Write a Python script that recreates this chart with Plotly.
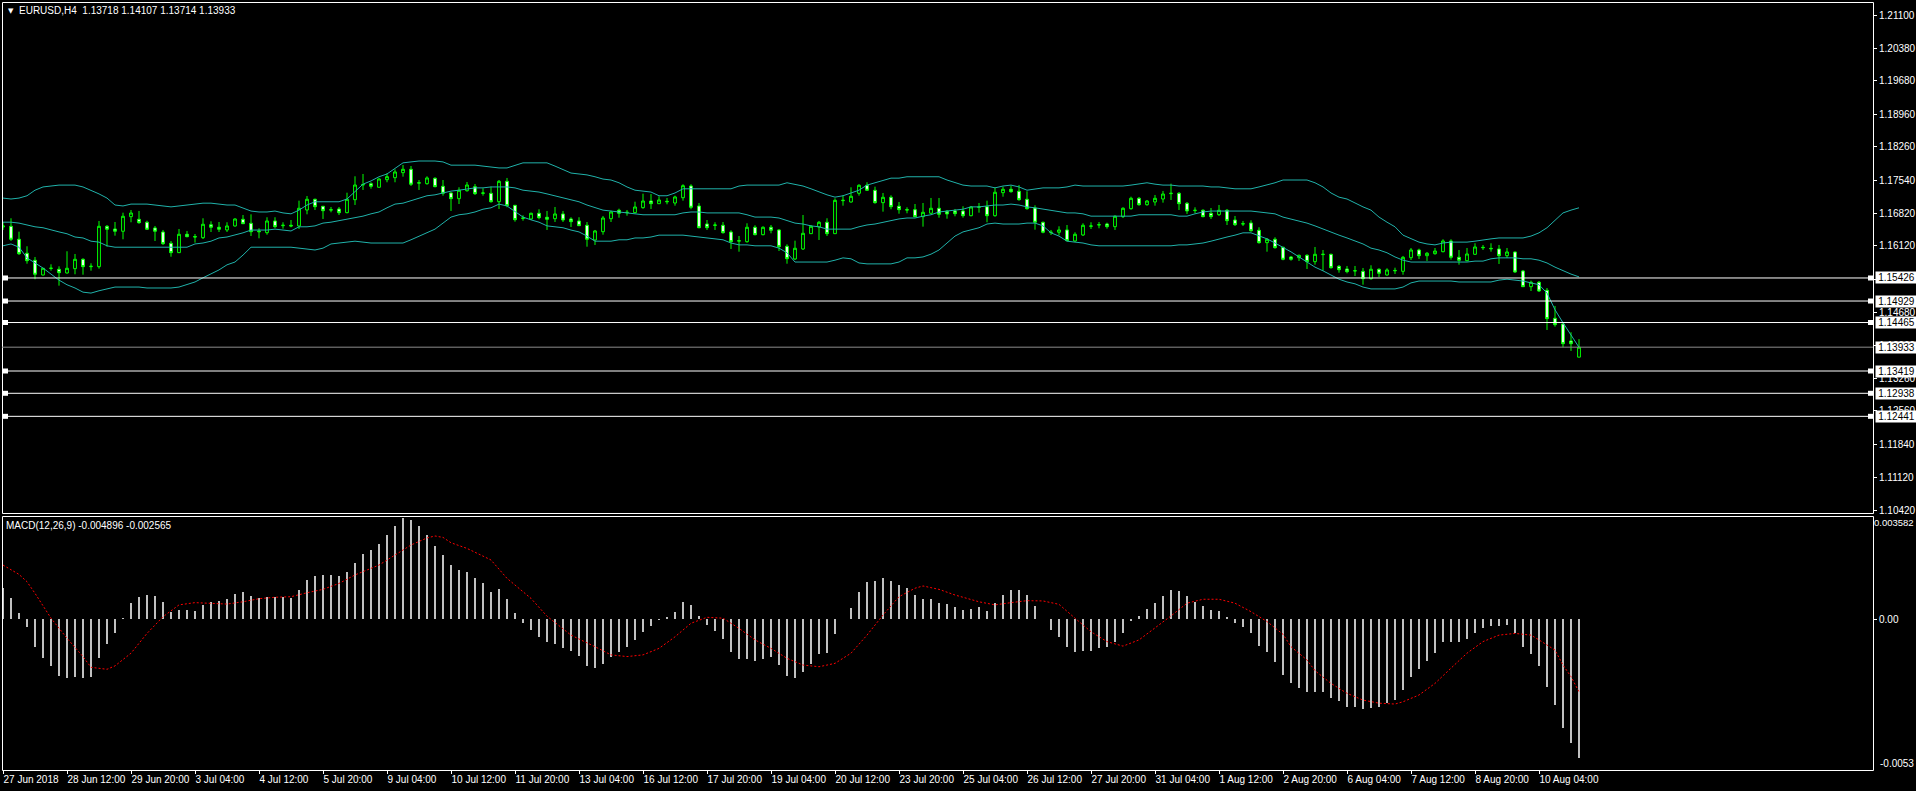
import plotly.graph_objects as go

# ---------------- data (EURUSD H4) ----------------
opens = [1.16526, 1.16541, 1.16261, 1.15959, 1.15808, 1.15491, 1.15631, 1.15614, 1.15534, 1.15627,
 1.15829, 1.15670, 1.15670, 1.16541, 1.16483, 1.16434, 1.16749, 1.16692, 1.16628, 1.16505,
 1.16418, 1.16175, 1.15972, 1.16369, 1.16321, 1.16295, 1.16576, 1.16520, 1.16462, 1.16548,
 1.16692, 1.16606, 1.16440, 1.16403, 1.16656, 1.16554, 1.16563, 1.16548, 1.16893, 1.17124,
 1.16973, 1.16890, 1.16915, 1.16835, 1.17115, 1.17432, 1.17461, 1.17383, 1.17547, 1.17590,
 1.17698, 1.17771, 1.17470, 1.17461, 1.17577, 1.17404, 1.17260, 1.17137, 1.17309, 1.17396,
 1.17253, 1.17253, 1.17072, 1.17512, 1.16994, 1.16710, 1.16699, 1.16822, 1.16736, 1.16705,
 1.16807, 1.16699, 1.16656, 1.16563, 1.16246, 1.16425, 1.16705, 1.16887, 1.16835, 1.16835,
 1.16943, 1.17087, 1.17029, 1.17080, 1.17044, 1.17158, 1.17411, 1.16979, 1.16591, 1.16560,
 1.16563, 1.16418, 1.16220, 1.16209, 1.16520, 1.16360, 1.16520, 1.16462, 1.16110, 1.15836,
 1.16052, 1.16382, 1.16526, 1.16628, 1.16382, 1.17094, 1.17066, 1.17253, 1.17426, 1.17318,
 1.17051, 1.17167, 1.16973, 1.16900, 1.16900, 1.16749, 1.16822, 1.16930, 1.16865, 1.16872,
 1.16872, 1.16770, 1.16951, 1.16964, 1.16770, 1.17266, 1.17340, 1.17297, 1.17124, 1.16936,
 1.16628, 1.16405, 1.16412, 1.16462, 1.16224, 1.16354, 1.16541, 1.16569, 1.16591, 1.16533,
 1.16749, 1.16921, 1.17145, 1.17007, 1.17066, 1.17130, 1.17245, 1.17253, 1.17037, 1.16880,
 1.16887, 1.16822, 1.16792, 1.16887, 1.16677, 1.16590, 1.16613, 1.16455, 1.16188, 1.16261,
 1.16088, 1.15879, 1.15864, 1.15916, 1.15778, 1.15930, 1.15937, 1.15678, 1.15620, 1.15576,
 1.15570, 1.15411, 1.15614, 1.15491, 1.15590, 1.15570, 1.15864, 1.16030, 1.15907, 1.15950,
 1.15993, 1.16224, 1.15872, 1.15799, 1.15937, 1.16088, 1.16065, 1.16052, 1.15907, 1.15987,
 1.15577, 1.15238, 1.15333, 1.15160, 1.14556, 1.14433, 1.14067, 1.13718]

highs = [1.16634, 1.16714, 1.16425, 1.16110, 1.15879, 1.15642, 1.15721, 1.15678, 1.16002, 1.15944,
 1.15851, 1.15743, 1.16656, 1.16569, 1.16634, 1.16835, 1.16893, 1.16872, 1.16662, 1.16548,
 1.16462, 1.16224, 1.16483, 1.16440, 1.16375, 1.16714, 1.16649, 1.16634, 1.16628, 1.16714,
 1.16785, 1.16800, 1.16498, 1.16736, 1.16736, 1.16628, 1.16677, 1.17094, 1.17195, 1.17137,
 1.16979, 1.16958, 1.16958, 1.17266, 1.17620, 1.17670, 1.17491, 1.17577, 1.17685, 1.17771,
 1.17864, 1.17842, 1.17540, 1.17620, 1.17599, 1.17540, 1.17275, 1.17383, 1.17497, 1.17454,
 1.17361, 1.17396, 1.17540, 1.17584, 1.17001, 1.16779, 1.16835, 1.16908, 1.16872, 1.16958,
 1.16872, 1.16736, 1.16736, 1.16634, 1.16462, 1.16764, 1.16878, 1.16921, 1.16893, 1.17072,
 1.17245, 1.17238, 1.17189, 1.17152, 1.17202, 1.17448, 1.17448, 1.17044, 1.16677, 1.16628,
 1.16634, 1.16455, 1.16332, 1.16606, 1.16563, 1.16541, 1.16569, 1.16477, 1.16153, 1.16231,
 1.16785, 1.16569, 1.16656, 1.16714, 1.17145, 1.17210, 1.17383, 1.17448, 1.17491, 1.17396,
 1.17260, 1.17210, 1.17066, 1.16951, 1.17022, 1.17044, 1.17152, 1.17152, 1.16893, 1.16915,
 1.16973, 1.16979, 1.17044, 1.17094, 1.17383, 1.17396, 1.17417, 1.17432, 1.17297, 1.16994,
 1.16641, 1.16462, 1.16541, 1.16569, 1.16412, 1.16606, 1.16628, 1.16634, 1.16619, 1.16779,
 1.16951, 1.17180, 1.17174, 1.17109, 1.17217, 1.17303, 1.17461, 1.17281, 1.17066, 1.16951,
 1.16908, 1.16936, 1.17001, 1.16915, 1.16764, 1.16656, 1.16671, 1.16520, 1.16289, 1.16304,
 1.16101, 1.15901, 1.15929, 1.15937, 1.16095, 1.16030, 1.15950, 1.15706, 1.15685, 1.15685,
 1.15642, 1.15700, 1.15635, 1.15635, 1.15648, 1.15901, 1.16073, 1.16058, 1.15987, 1.16073,
 1.16261, 1.16261, 1.16030, 1.16073, 1.16175, 1.16138, 1.16175, 1.16138, 1.16073, 1.15993,
 1.15599, 1.15368, 1.15361, 1.15210, 1.14822, 1.14455, 1.14255, 1.14107]

lows = [1.16462, 1.16224, 1.15922, 1.15734, 1.15398, 1.15480, 1.15583, 1.15260, 1.15519, 1.15506,
 1.15497, 1.15583, 1.15627, 1.16101, 1.16339, 1.16261, 1.16628, 1.16597, 1.16462, 1.16224,
 1.16138, 1.15885, 1.15965, 1.16304, 1.16188, 1.16267, 1.16418, 1.16418, 1.16418, 1.16533,
 1.16591, 1.16332, 1.16282, 1.16360, 1.16498, 1.16490, 1.16520, 1.16483, 1.16800, 1.16893,
 1.16699, 1.16843, 1.16785, 1.16822, 1.17001, 1.17325, 1.17353, 1.17383, 1.17491, 1.17491,
 1.17612, 1.17411, 1.17325, 1.17439, 1.17383, 1.17202, 1.16872, 1.17022, 1.17288, 1.17217,
 1.17202, 1.17051, 1.16915, 1.16951, 1.16641, 1.16662, 1.16677, 1.16692, 1.16462, 1.16634,
 1.16634, 1.16526, 1.16548, 1.16101, 1.16138, 1.16360, 1.16634, 1.16727, 1.16770, 1.16822,
 1.16921, 1.16915, 1.17029, 1.17016, 1.16986, 1.17094, 1.16908, 1.16498, 1.16462, 1.16462,
 1.16382, 1.16052, 1.15993, 1.16188, 1.16347, 1.16347, 1.16390, 1.16008, 1.15734, 1.15814,
 1.16030, 1.16375, 1.16246, 1.16332, 1.16382, 1.16986, 1.17051, 1.17202, 1.17303, 1.17029,
 1.16857, 1.16908, 1.16813, 1.16822, 1.16736, 1.16533, 1.16807, 1.16727, 1.16705, 1.16757,
 1.16727, 1.16757, 1.16835, 1.16628, 1.16749, 1.17180, 1.17266, 1.17094, 1.16900, 1.16468,
 1.16390, 1.16354, 1.16347, 1.16218, 1.16203, 1.16332, 1.16483, 1.16498, 1.16490, 1.16462,
 1.16720, 1.16900, 1.16986, 1.16986, 1.16986, 1.17051, 1.17109, 1.16893, 1.16807, 1.16822,
 1.16736, 1.16699, 1.16764, 1.16569, 1.16548, 1.16548, 1.16425, 1.16166, 1.15993, 1.16058,
 1.15808, 1.15799, 1.15793, 1.15620, 1.15713, 1.15583, 1.15627, 1.15540, 1.15527, 1.15469,
 1.15281, 1.15389, 1.15447, 1.15476, 1.15512, 1.15497, 1.15814, 1.15836, 1.15793, 1.15929,
 1.15980, 1.15821, 1.15713, 1.15786, 1.15922, 1.16030, 1.15993, 1.15728, 1.15857, 1.15534,
 1.15232, 1.15145, 1.15124, 1.14304, 1.14375, 1.13931, 1.13852, 1.13714]

closes = [1.16548, 1.16261, 1.15950, 1.15799, 1.15506, 1.15635, 1.15637, 1.15540, 1.15635, 1.15829,
 1.15670, 1.15678, 1.16541, 1.16477, 1.16434, 1.16757, 1.16828, 1.16619, 1.16477, 1.16434,
 1.16166, 1.15972, 1.16369, 1.16317, 1.16310, 1.16585, 1.16520, 1.16477, 1.16548, 1.16699,
 1.16597, 1.16425, 1.16425, 1.16656, 1.16533, 1.16563, 1.16548, 1.16930, 1.17124, 1.16964,
 1.16878, 1.16900, 1.16835, 1.17124, 1.17432, 1.17443, 1.17404, 1.17562, 1.17612, 1.17713,
 1.17771, 1.17448, 1.17482, 1.17584, 1.17396, 1.17253, 1.17137, 1.17318, 1.17432, 1.17245,
 1.17260, 1.17072, 1.17512, 1.16986, 1.16684, 1.16720, 1.16822, 1.16727, 1.16692, 1.16807,
 1.16677, 1.16641, 1.16554, 1.16261, 1.16440, 1.16720, 1.16850, 1.16822, 1.16843, 1.16958,
 1.17087, 1.17029, 1.17109, 1.17072, 1.17174, 1.17417, 1.16951, 1.16511, 1.16511, 1.16569,
 1.16403, 1.16209, 1.16231, 1.16520, 1.16360, 1.16520, 1.16455, 1.16101, 1.15842, 1.16067,
 1.16390, 1.16541, 1.16628, 1.16382, 1.17102, 1.17102, 1.17189, 1.17426, 1.17318, 1.17051,
 1.17167, 1.16964, 1.16900, 1.16893, 1.16749, 1.16843, 1.16930, 1.16800, 1.16807, 1.16813,
 1.16770, 1.16958, 1.16958, 1.16770, 1.17275, 1.17340, 1.17288, 1.17115, 1.16921, 1.16628,
 1.16412, 1.16412, 1.16462, 1.16231, 1.16369, 1.16563, 1.16548, 1.16576, 1.16533, 1.16757,
 1.16930, 1.17145, 1.17007, 1.17087, 1.17145, 1.17238, 1.17253, 1.17029, 1.16872, 1.16887,
 1.16749, 1.16749, 1.16887, 1.16662, 1.16576, 1.16597, 1.16446, 1.16188, 1.16261, 1.16080,
 1.15829, 1.15829, 1.15916, 1.15778, 1.15937, 1.15937, 1.15648, 1.15605, 1.15562, 1.15583,
 1.15411, 1.15614, 1.15527, 1.15599, 1.15583, 1.15872, 1.16030, 1.15907, 1.15959, 1.16008,
 1.16224, 1.15872, 1.15808, 1.15944, 1.16095, 1.16080, 1.16058, 1.15907, 1.15987, 1.15555,
 1.15238, 1.15333, 1.15145, 1.14548, 1.14418, 1.14008, 1.14008, 1.13933]

bb_upper = [1.1715, 1.1713, 1.1715, 1.1720, 1.1732, 1.1739, 1.1741, 1.1743, 1.1743, 1.1743,
 1.1739, 1.1732, 1.1724, 1.1715, 1.1700, 1.1698, 1.1702, 1.1702, 1.1702, 1.1700,
 1.1698, 1.1696, 1.1698, 1.1700, 1.1702, 1.1704, 1.1704, 1.1702, 1.1700, 1.1700,
 1.1694, 1.1687, 1.1685, 1.1685, 1.1687, 1.1683, 1.1681, 1.1689, 1.1700, 1.1707,
 1.1707, 1.1707, 1.1707, 1.1713, 1.1728, 1.1745, 1.1752, 1.1761, 1.1767, 1.1780,
 1.1791, 1.1793, 1.1795, 1.1795, 1.1795, 1.1793, 1.1786, 1.1786, 1.1786, 1.1786,
 1.1784, 1.1782, 1.1780, 1.1780, 1.1786, 1.1791, 1.1791, 1.1791, 1.1791, 1.1784,
 1.1776, 1.1769, 1.1767, 1.1765, 1.1761, 1.1756, 1.1754, 1.1748, 1.1739, 1.1732,
 1.1730, 1.1728, 1.1720, 1.1720, 1.1726, 1.1735, 1.1735, 1.1735, 1.1735, 1.1735,
 1.1735, 1.1735, 1.1741, 1.1743, 1.1743, 1.1743, 1.1743, 1.1743, 1.1748, 1.1745,
 1.1741, 1.1735, 1.1728, 1.1722, 1.1717, 1.1720, 1.1726, 1.1732, 1.1743, 1.1748,
 1.1754, 1.1758, 1.1758, 1.1761, 1.1761, 1.1761, 1.1761, 1.1761, 1.1754, 1.1748,
 1.1743, 1.1741, 1.1741, 1.1741, 1.1737, 1.1741, 1.1743, 1.1739, 1.1732, 1.1735,
 1.1737, 1.1737, 1.1737, 1.1739, 1.1743, 1.1741, 1.1741, 1.1741, 1.1741, 1.1741,
 1.1741, 1.1743, 1.1745, 1.1748, 1.1745, 1.1743, 1.1743, 1.1741, 1.1741, 1.1741,
 1.1741, 1.1739, 1.1739, 1.1737, 1.1735, 1.1735, 1.1735, 1.1739, 1.1743, 1.1748,
 1.1754, 1.1754, 1.1754, 1.1754, 1.1748, 1.1739, 1.1726, 1.1717, 1.1713, 1.1704,
 1.1696, 1.1689, 1.1674, 1.1663, 1.1653, 1.1635, 1.1627, 1.1620, 1.1616, 1.1614,
 1.1618, 1.1620, 1.1620, 1.1620, 1.1622, 1.1625, 1.1627, 1.1629, 1.1629, 1.1629,
 1.1629, 1.1633, 1.1640, 1.1651, 1.1668, 1.1683, 1.1689, 1.1694]

bb_middle = [1.1663, 1.1663, 1.1661, 1.1657, 1.1653, 1.1651, 1.1646, 1.1642, 1.1638, 1.1631,
 1.1629, 1.1622, 1.1620, 1.1612, 1.1609, 1.1609, 1.1609, 1.1609, 1.1609, 1.1609,
 1.1609, 1.1609, 1.1609, 1.1609, 1.1616, 1.1618, 1.1622, 1.1629, 1.1631, 1.1635,
 1.1640, 1.1646, 1.1646, 1.1646, 1.1648, 1.1646, 1.1644, 1.1653, 1.1653, 1.1655,
 1.1661, 1.1663, 1.1666, 1.1670, 1.1672, 1.1676, 1.1681, 1.1685, 1.1694, 1.1702,
 1.1704, 1.1709, 1.1715, 1.1720, 1.1722, 1.1726, 1.1730, 1.1732, 1.1735, 1.1737,
 1.1737, 1.1739, 1.1739, 1.1739, 1.1737, 1.1732, 1.1730, 1.1728, 1.1724, 1.1720,
 1.1715, 1.1711, 1.1707, 1.1700, 1.1694, 1.1689, 1.1687, 1.1685, 1.1683, 1.1681,
 1.1679, 1.1679, 1.1679, 1.1679, 1.1679, 1.1683, 1.1685, 1.1685, 1.1683, 1.1683,
 1.1683, 1.1683, 1.1683, 1.1679, 1.1674, 1.1674, 1.1674, 1.1672, 1.1666, 1.1661,
 1.1659, 1.1655, 1.1653, 1.1648, 1.1648, 1.1648, 1.1648, 1.1653, 1.1657, 1.1659,
 1.1663, 1.1666, 1.1670, 1.1672, 1.1672, 1.1676, 1.1679, 1.1685, 1.1687, 1.1689,
 1.1691, 1.1696, 1.1696, 1.1698, 1.1700, 1.1700, 1.1702, 1.1700, 1.1696, 1.1694,
 1.1691, 1.1689, 1.1685, 1.1683, 1.1683, 1.1681, 1.1676, 1.1676, 1.1676, 1.1676,
 1.1676, 1.1676, 1.1679, 1.1679, 1.1679, 1.1679, 1.1679, 1.1676, 1.1676, 1.1681,
 1.1685, 1.1687, 1.1687, 1.1687, 1.1687, 1.1687, 1.1687, 1.1685, 1.1683, 1.1681,
 1.1674, 1.1670, 1.1666, 1.1661, 1.1655, 1.1648, 1.1642, 1.1635, 1.1629, 1.1622,
 1.1616, 1.1607, 1.1603, 1.1597, 1.1588, 1.1581, 1.1577, 1.1577, 1.1577, 1.1577,
 1.1577, 1.1577, 1.1577, 1.1577, 1.1579, 1.1579, 1.1584, 1.1586, 1.1586, 1.1586,
 1.1584, 1.1584, 1.1581, 1.1575, 1.1566, 1.1558, 1.1551, 1.1545]

bb_lower = [1.1612, 1.1616, 1.1609, 1.1586, 1.1575, 1.1564, 1.1551, 1.1538, 1.1528, 1.1521,
 1.1512, 1.1510, 1.1515, 1.1519, 1.1523, 1.1523, 1.1523, 1.1523, 1.1521, 1.1521,
 1.1521, 1.1521, 1.1523, 1.1528, 1.1534, 1.1543, 1.1551, 1.1560, 1.1571, 1.1577,
 1.1592, 1.1609, 1.1609, 1.1609, 1.1609, 1.1609, 1.1609, 1.1607, 1.1605, 1.1603,
 1.1607, 1.1616, 1.1618, 1.1620, 1.1622, 1.1620, 1.1618, 1.1618, 1.1618, 1.1618,
 1.1618, 1.1625, 1.1633, 1.1640, 1.1648, 1.1661, 1.1674, 1.1679, 1.1681, 1.1685,
 1.1691, 1.1694, 1.1702, 1.1698, 1.1685, 1.1674, 1.1668, 1.1663, 1.1655, 1.1653,
 1.1651, 1.1646, 1.1642, 1.1633, 1.1622, 1.1622, 1.1622, 1.1625, 1.1625, 1.1629,
 1.1629, 1.1631, 1.1635, 1.1635, 1.1635, 1.1635, 1.1633, 1.1631, 1.1629, 1.1627,
 1.1625, 1.1618, 1.1614, 1.1614, 1.1612, 1.1612, 1.1612, 1.1607, 1.1597, 1.1577,
 1.1577, 1.1577, 1.1577, 1.1577, 1.1581, 1.1586, 1.1584, 1.1575, 1.1573, 1.1573,
 1.1573, 1.1573, 1.1577, 1.1586, 1.1586, 1.1588, 1.1594, 1.1603, 1.1618, 1.1633,
 1.1642, 1.1646, 1.1651, 1.1659, 1.1661, 1.1659, 1.1659, 1.1659, 1.1661, 1.1661,
 1.1655, 1.1640, 1.1633, 1.1622, 1.1620, 1.1618, 1.1614, 1.1612, 1.1612, 1.1612,
 1.1612, 1.1612, 1.1612, 1.1612, 1.1612, 1.1612, 1.1612, 1.1614, 1.1614, 1.1616,
 1.1618, 1.1622, 1.1627, 1.1631, 1.1635, 1.1640, 1.1640, 1.1633, 1.1627, 1.1618,
 1.1609, 1.1599, 1.1588, 1.1577, 1.1566, 1.1558, 1.1549, 1.1540, 1.1534, 1.1530,
 1.1523, 1.1519, 1.1519, 1.1519, 1.1519, 1.1523, 1.1532, 1.1536, 1.1536, 1.1536,
 1.1536, 1.1536, 1.1534, 1.1534, 1.1534, 1.1534, 1.1534, 1.1538, 1.1540, 1.1538,
 1.1536, 1.1532, 1.1528, 1.1510, 1.1474, 1.1446, 1.1420, 1.1393]

macd_hist = [0.00110, 0.00074, 0.00021, -0.00029, -0.00097, -0.00136, -0.00167, -0.00199, -0.00209, -0.00205,
 -0.00209, -0.00205, -0.00136, -0.00086, -0.00047, 0.00006, 0.00059, 0.00080, 0.00086, 0.00082,
 0.00063, 0.00027, 0.00033, 0.00033, 0.00029, 0.00051, 0.00063, 0.00065, 0.00072, 0.00090,
 0.00095, 0.00082, 0.00074, 0.00080, 0.00078, 0.00080, 0.00077, 0.00104, 0.00139, 0.00153,
 0.00157, 0.00157, 0.00155, 0.00169, 0.00201, 0.00231, 0.00245, 0.00267, 0.00300, 0.00330,
 0.003582, 0.00350, 0.00330, 0.00300, 0.00259, 0.00228, 0.00192, 0.00175, 0.00166, 0.00145,
 0.00127, 0.00096, 0.00106, 0.00071, 0.00021, -0.00012, -0.00038, -0.00061, -0.00079, -0.00087,
 -0.00100, -0.00111, -0.00130, -0.00165, -0.00173, -0.00158, -0.00135, -0.00114, -0.00097, -0.00073,
 -0.00044, -0.00024, -0.00002, 0.00007, 0.00027, 0.00061, 0.00051, 0.00010, -0.00020, -0.00040,
 -0.00071, -0.00114, -0.00142, -0.00141, -0.00146, -0.00141, -0.00135, -0.00162, -0.00199, -0.00209,
 -0.00188, -0.00158, -0.00124, -0.00118, -0.00052, 0.00002, 0.00039, 0.00097, 0.00132, 0.00135,
 0.00145, 0.00135, 0.00121, 0.00110, 0.00086, 0.00071, 0.00071, 0.00057, 0.00054, 0.00045,
 0.00033, 0.00036, 0.00044, 0.00031, 0.00059, 0.00086, 0.00104, 0.00104, 0.00086, 0.00047,
 0.00001, -0.00038, -0.00061, -0.00097, -0.00114, -0.00111, -0.00111, -0.00103, -0.00099, -0.00079,
 -0.00047, -0.00005, 0.00012, 0.00036, 0.00059, 0.00082, 0.00104, 0.00100, 0.00082, 0.00063,
 0.00047, 0.00033, 0.00031, 0.00007, -0.00012, -0.00029, -0.00050, -0.00093, -0.00117, -0.00150,
 -0.00197, -0.00224, -0.00242, -0.00259, -0.00259, -0.00259, -0.00277, -0.00291, -0.00309, -0.00309,
 -0.00319, -0.00313, -0.00309, -0.00297, -0.00286, -0.00250, -0.00203, -0.00176, -0.00146, -0.00120,
 -0.00082, -0.00079, -0.00079, -0.00068, -0.00047, -0.00032, -0.00024, -0.00024, -0.00020, -0.00047,
 -0.00097, -0.00124, -0.00165, -0.00238, -0.00303, -0.00386, -0.00439, -0.004896]

signal_bar = [0, 2, 3, 4, 6, 8, 10, 11, 13, 14, 16, 18, 20, 22, 24, 26, 28, 30, 32, 34, 36, 38, 40, 42,
 44, 47, 49, 51, 53, 54, 55, 56, 58, 61, 63, 66, 68, 71, 74, 76, 78, 80, 82, 84, 86, 88, 90, 92,
 94, 96, 98, 100, 102, 104, 106, 108, 110, 112, 114, 115, 117, 119, 122, 124, 126, 128, 130, 132,
 134, 136, 138, 140, 142, 144, 146, 148, 150, 152, 154, 156, 158, 160, 161, 163, 164, 166, 168,
 170, 172, 174, 175, 177, 179, 181, 183, 185, 187, 189, 191, 192, 194, 195, 196, 197]
signal_val = [0.00192, 0.00159, 0.00133, 0.00092, 0.00004, -0.00067, -0.00132, -0.00170, -0.00177, -0.00165,
 -0.00120, -0.00050, 0.00009, 0.00051, 0.00059, 0.00057, 0.00054, 0.00062, 0.00073, 0.00078,
 0.00080, 0.00094, 0.00106, 0.00127, 0.00157, 0.00192, 0.00228, 0.00263, 0.00288, 0.00295,
 0.00290, 0.00271, 0.00251, 0.00210, 0.00145, 0.00074, 0.00011, -0.00056, -0.00097, -0.00126,
 -0.00132, -0.00126, -0.00103, -0.00062, -0.00014, 0.00007, 0.00004, -0.00032, -0.00073, -0.00103,
 -0.00138, -0.00162, -0.00168, -0.00156, -0.00120, -0.00056, 0.00015, 0.00080, 0.00110, 0.00118,
 0.00106, 0.00086, 0.00062, 0.00051, 0.00059, 0.00066, 0.00065, 0.00053, 0.00004, -0.00044,
 -0.00079, -0.00095, -0.00073, -0.00032, 0.00012, 0.00057, 0.00071, 0.00071, 0.00057, 0.00027,
 -0.00008, -0.00053, -0.00097, -0.00144, -0.00182, -0.00227, -0.00262, -0.00286, -0.00297, -0.00300,
 -0.00292, -0.00268, -0.00227, -0.00173, -0.00120, -0.00079, -0.00056, -0.00050, -0.00056, -0.00073,
 -0.00109, -0.00162, -0.00203, -0.002565]

level_lines = [1.15426, 1.14929, 1.14465, 1.13419, 1.12938, 1.12441]
bid_price = 1.13933

price_ticks = [1.21100, 1.20380, 1.19680, 1.18960, 1.18260, 1.17540, 1.16820, 1.16120,
               1.15400, 1.14680, 1.13960, 1.13260, 1.12560, 1.11840, 1.11120, 1.10420]
time_labels = ["27 Jun 2018", "28 Jun 12:00", "29 Jun 20:00", "3 Jul 04:00", "4 Jul 12:00",
               "5 Jul 20:00", "9 Jul 04:00", "10 Jul 12:00", "11 Jul 20:00", "13 Jul 04:00",
               "16 Jul 12:00", "17 Jul 20:00", "19 Jul 04:00", "20 Jul 12:00", "23 Jul 20:00",
               "25 Jul 04:00", "26 Jul 12:00", "27 Jul 20:00", "31 Jul 04:00", "1 Aug 12:00",
               "2 Aug 20:00", "6 Aug 04:00", "7 Aug 12:00", "8 Aug 20:00", "10 Aug 04:00"]
label_every = 8
title_text = "EURUSD,H4  1.13718 1.14107 1.13714 1.13933"
macd_text = "MACD(12,26,9) -0.004896 -0.002565"
macd_top, macd_bottom = 0.003582, -0.0053

# ---------------- layout geometry (pixels) ----------------
W, H = 1916, 791
PL, PR = 2, 1873
MT, MB = 2, 513
ST, SB = 516, 770
FONT = "Liberation Sans, Arial, sans-serif"
FS = 10
GREEN = "#00FF00"
BAND = "#20B2AA"

def fx(px):
    return px / W

def fy(py):
    return 1 - py / H

bars = list(range(len(opens)))
tick_pos = [i * label_every for i in range(len(time_labels))]

fig = go.Figure()

fig.add_trace(go.Candlestick(
    x=bars, open=opens, high=highs, low=lows, close=closes,
    xaxis="x2", yaxis="y2", whiskerwidth=0,
    increasing=dict(line=dict(color=GREEN, width=1), fillcolor="#000000"),
    decreasing=dict(line=dict(color=GREEN, width=1), fillcolor="#FFFFFF"),
    hoverinfo="skip"))
for band in (bb_upper, bb_middle, bb_lower):
    fig.add_trace(go.Scatter(x=bars, y=band, xaxis="x2", yaxis="y2", mode="lines",
                             line=dict(color=BAND, width=1), hoverinfo="skip"))

fig.add_trace(go.Bar(x=bars, y=macd_hist, xaxis="x", yaxis="y", width=0.16,
                     marker=dict(color="#C0C0C0", line=dict(width=0)), hoverinfo="skip"))
fig.add_trace(go.Scatter(x=signal_bar, y=signal_val, xaxis="x", yaxis="y", mode="lines",
                         line=dict(color="#FF0000", width=1, dash="2px,2px"), hoverinfo="skip"))

# x scale: bar i centred at pixel 3 + 8 i
x_range = [(PL - 3) / 8, (PR - 3) / 8]
# y scales
px_per_price = (510 - 15) / (1.21100 - 1.10420)
def price_at(py):
    return 1.21100 - (py - 15) / px_per_price
zero_px = 619.3
px_per_macd = (SB - 1 - zero_px) / (0 - macd_bottom)
def macd_at(py):
    return (zero_px - py) / px_per_macd

tickfont = dict(family=FONT, size=FS, color="white")
fig.update_layout(
    width=W, height=H, margin=dict(l=0, r=0, t=0, b=0, autoexpand=False),
    paper_bgcolor="black", plot_bgcolor="black", showlegend=False,
    font=dict(family=FONT, size=FS, color="white"),
    boxgap=0.5, bargap=0,
    xaxis=dict(domain=[fx(PL), fx(PR)], range=x_range, anchor="y", automargin=False,
               showgrid=False, zeroline=False, showline=False,
               tickmode="array", tickvals=tick_pos, ticktext=time_labels, tickangle=0,
               ticks="outside", ticklen=3, tickcolor="white", tickwidth=1,
               ticklabelposition="outside right", tickfont=tickfont,
               rangeslider=dict(visible=False), fixedrange=True),
    xaxis2=dict(domain=[fx(PL), fx(PR)], range=x_range, anchor="y2", matches="x",
                automargin=False, showgrid=False, zeroline=False, showline=False,
                showticklabels=False, ticks="", rangeslider=dict(visible=False),
                fixedrange=True),
    yaxis=dict(domain=[fy(SB), fy(ST)], range=[macd_at(SB), macd_at(ST)], anchor="x",
               side="right", automargin=False, showgrid=False, zeroline=False, showline=False,
               tickmode="array", tickvals=[0], ticktext=["0.00"],
               ticks="outside", ticklen=3, tickcolor="white", tickfont=tickfont,
               fixedrange=True),
    yaxis2=dict(domain=[fy(MB), fy(MT)], range=[price_at(MB), price_at(MT)], anchor="x2",
                side="right", automargin=False, showgrid=False, zeroline=False, showline=False,
                tickmode="array", tickvals=price_ticks,
                ticktext=["%.5f" % v for v in price_ticks],
                ticks="outside", ticklen=3, tickcolor="white", tickfont=tickfont,
                fixedrange=True),
)

shapes = []
# panel frames
for (t, b) in ((MT, MB), (ST, SB)):
    shapes.append(dict(type="rect", xref="paper", yref="paper",
                       x0=fx(PL + 0.5), x1=fx(PR + 0.5), y0=fy(b + 0.5), y1=fy(t + 0.5),
                       line=dict(color="white", width=1), layer="above"))
# horizontal levels
for lv in level_lines:
    shapes.append(dict(type="line", xref="x2 domain", yref="y2", x0=0, x1=1, y0=lv, y1=lv,
                       line=dict(color="white", width=1), layer="above"))
    for (a, b) in ((PL, PL + 6), (PR - 5, PR)):
        shapes.append(dict(type="rect", xref="paper", yref="y2", x0=fx(a), x1=fx(b),
                           y0=lv - 2.5 / px_per_price, y1=lv + 2.5 / px_per_price,
                           fillcolor="white", line=dict(width=0), layer="above"))
shapes.append(dict(type="line", xref="x2 domain", yref="y2", x0=0, x1=1,
                   y0=bid_price, y1=bid_price, line=dict(color="#8C8C8C", width=1),
                   layer="above"))
fig.update_layout(shapes=shapes)

annotations = []
for lv in level_lines + [bid_price]:
    annotations.append(dict(xref="paper", yref="y2", x=fx(PR + 2), y=lv, xanchor="left",
                            yanchor="middle", text="%.5f" % lv, showarrow=False,
                            bgcolor="white", font=dict(family=FONT, size=FS, color="black"),
                            width=41, height=11, borderpad=0, align="center"))
annotations.append(dict(xref="paper", yref="paper", x=fx(6), y=fy(11), xanchor="left",
                        yanchor="middle", text="\u25BC", showarrow=False,
                        font=dict(family="DejaVu Sans", size=7, color="white")))
annotations.append(dict(xref="paper", yref="paper", x=fx(17), y=fy(11), xanchor="left",
                        yanchor="middle", text=title_text, showarrow=False,
                        font=dict(family=FONT, size=FS, color="white")))
annotations.append(dict(xref="paper", yref="paper", x=fx(4), y=fy(ST + 9), xanchor="left",
                        yanchor="middle", text=macd_text, showarrow=False,
                        font=dict(family=FONT, size=FS, color="white")))
annotations.append(dict(xref="paper", yref="paper", x=fx(W - 1), y=fy(ST + 6), xanchor="right",
                        yanchor="middle", text="%.6f" % macd_top, showarrow=False,
                        borderpad=0, font=dict(family=FONT, size=9.5, color="white")))
annotations.append(dict(xref="paper", yref="paper", x=fx(PR + 5), y=fy(SB - 7), xanchor="left",
                        yanchor="middle", text="%.4f" % macd_bottom, showarrow=False,
                        font=dict(family=FONT, size=FS, color="white")))
fig.update_layout(annotations=annotations)

fig.write_html("out.html", config={"displayModeBar": False, "staticPlot": True},
               post_script="document.body.style.margin='0px';document.body.style.overflow='hidden';")
